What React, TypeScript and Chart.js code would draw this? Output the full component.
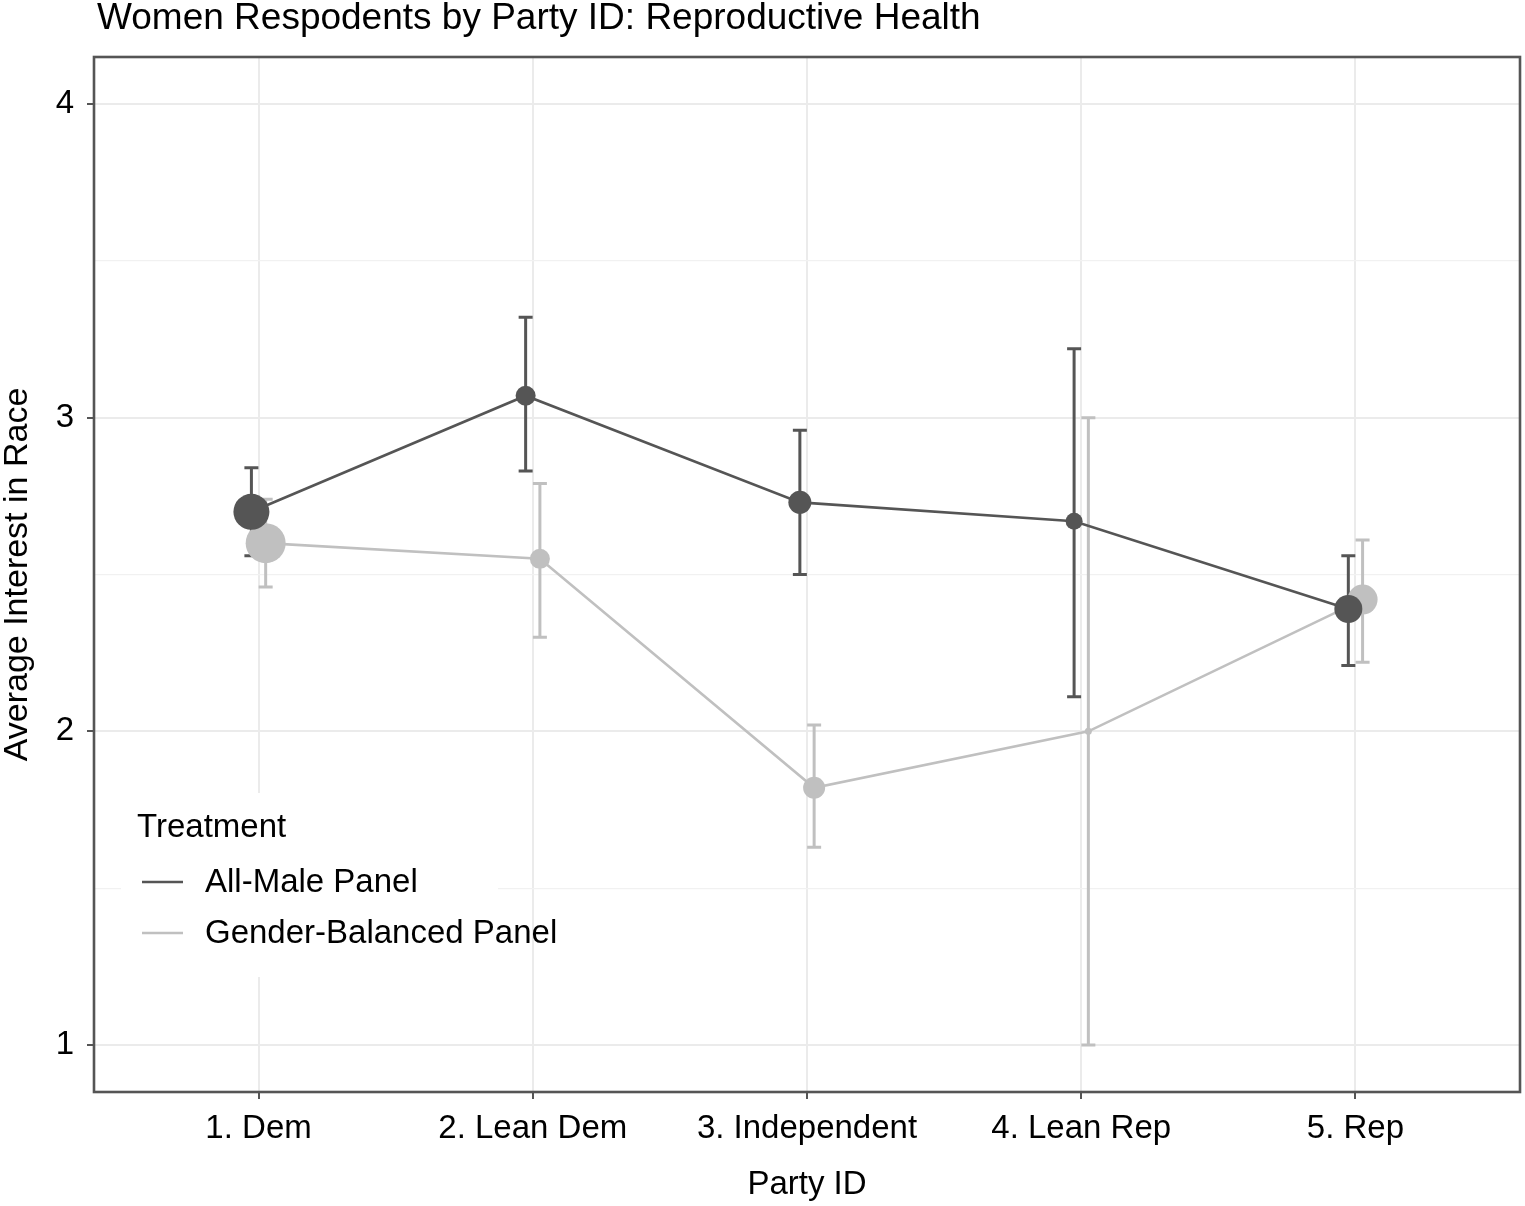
import React, { useEffect, useRef } from "react";
import { Chart, registerables } from "chart.js";

Chart.register(...registerables);

// ---- data ----
const categories = ["1. Dem", "2. Lean Dem", "3. Independent", "4. Lean Rep", "5. Rep"];
const seriesNames = ["All-Male Panel", "Gender-Balanced Panel"];

const maleMean = [2.70, 3.07, 2.73, 2.67, 2.39];
const maleLow = [2.56, 2.83, 2.50, 2.11, 2.21];
const maleHigh = [2.84, 3.32, 2.96, 3.22, 2.56];
const maleSize = [18, 10, 11.5, 8.5, 14];

const femaleMean = [2.60, 2.55, 1.82, 2.00, 2.42];
const femaleLow = [2.46, 2.30, 1.63, 1.00, 2.22];
const femaleHigh = [2.74, 2.79, 2.02, 3.00, 2.61];
const femaleSize = [20, 10, 11, 3.5, 15];

const yTicks = [1, 1.5, 2, 2.5, 3, 3.5, 4];

const titleText = "Women Respodents by Party ID: Reproductive Health";
const xTitle = "Party ID";
const yTitle = "Average Interest in Race";
const legendTitle = "Treatment";

// ---- style ----
const DARK = "#555555";
const LIGHT = "#C0C0C0";
const FONT = '"Liberation Sans", Arial, Helvetica, sans-serif';
const DODGE = 0.026;

const pts = (means: number[], off: number) => means.map((v, i) => ({ x: i + 1 + off, y: v }));

const errorBarPlugin = {
  id: "errorBars",
  beforeDatasetsDraw(chart: any) {
    const { ctx, scales } = chart;
    const xs = scales.x;
    const ys = scales.y;
    const groups = [
      { lo: femaleLow, hi: femaleHigh, color: LIGHT, off: DODGE },
      { lo: maleLow, hi: maleHigh, color: DARK, off: -DODGE },
    ];
    ctx.save();
    groups.forEach((g) => {
      ctx.strokeStyle = g.color;
      ctx.lineWidth = 3;
      ctx.lineCap = "butt";
      g.lo.forEach((lo, i) => {
        const px = xs.getPixelForValue(i + 1 + g.off);
        const pLo = ys.getPixelForValue(lo);
        const pHi = ys.getPixelForValue(g.hi[i]);
        ctx.beginPath();
        ctx.moveTo(px, pLo);
        ctx.lineTo(px, pHi);
        ctx.moveTo(px - 7, pLo);
        ctx.lineTo(px + 7, pLo);
        ctx.moveTo(px - 7, pHi);
        ctx.lineTo(px + 7, pHi);
        ctx.stroke();
      });
    });
    ctx.restore();
  },
};

const framePlugin = {
  id: "frame",
  afterDraw(chart: any) {
    const { ctx, chartArea: a } = chart;
    ctx.save();
    // panel border
    ctx.strokeStyle = DARK;
    ctx.lineWidth = 2.6;
    ctx.strokeRect(a.left, a.top, a.right - a.left, a.bottom - a.top);

    // title
    ctx.fillStyle = "#000";
    ctx.font = `37px ${FONT}`;
    ctx.textAlign = "left";
    ctx.textBaseline = "alphabetic";
    ctx.fillText(titleText, 97, 29);

    // legend
    ctx.fillStyle = "#FFFFFF";
    ctx.fillRect(121, 793, 377, 184);
    ctx.fillStyle = "#000";
    ctx.font = `33px ${FONT}`;
    ctx.fillText(legendTitle, 137, 837);
    const rows = [
      { name: seriesNames[0], color: DARK, y: 882 },
      { name: seriesNames[1], color: LIGHT, y: 933 },
    ];
    rows.forEach((r) => {
      ctx.strokeStyle = r.color;
      ctx.lineWidth = 2.6;
      ctx.beginPath();
      ctx.moveTo(142, r.y);
      ctx.lineTo(183, r.y);
      ctx.stroke();
      ctx.fillStyle = "#000";
      ctx.fillText(r.name, 205, r.y + 10);
    });
    ctx.restore();
  },
};

export default function App() {
  const ref = useRef<HTMLCanvasElement | null>(null);

  useEffect(() => {
    if (!ref.current) return;
    const chart = new Chart(ref.current, {
      type: "line",
      data: {
        datasets: [
          {
            label: seriesNames[0],
            data: pts(maleMean, -DODGE),
            borderColor: DARK,
            backgroundColor: DARK,
            borderWidth: 2.6,
            pointRadius: maleSize,
            pointBackgroundColor: DARK,
            pointBorderWidth: 0,
            pointHoverRadius: maleSize,
            tension: 0,
          },
          {
            label: seriesNames[1],
            data: pts(femaleMean, DODGE),
            borderColor: LIGHT,
            backgroundColor: LIGHT,
            borderWidth: 2.6,
            pointRadius: femaleSize,
            pointBackgroundColor: LIGHT,
            pointBorderWidth: 0,
            pointHoverRadius: femaleSize,
            tension: 0,
          },
        ],
      },
      options: {
        animation: false,
        responsive: false,
        devicePixelRatio: 1,
        layout: { autoPadding: false, padding: { top: 57, right: 5, left: 0, bottom: 0 } },
        plugins: {
          legend: { display: false },
          title: { display: false },
          tooltip: { enabled: false },
        },
        scales: {
          x: {
            type: "linear",
            min: 0.4,
            max: 5.6,
            afterBuildTicks: (s: any) => {
              s.ticks = categories.map((_, i) => ({ value: i + 1 }));
            },
            afterFit: (s: any) => {
              s.height = 114;
              s.paddingLeft = 0;
              s.paddingRight = 0;
            },
            ticks: {
              autoSkip: false,
              maxRotation: 0,
              padding: 10,
              color: "#000",
              font: { family: FONT, size: 33 },
              callback: (v: any) => categories[Math.round(Number(v)) - 1] ?? "",
            },
            grid: {
              color: "#EBEBEB",
              lineWidth: 2,
              tickLength: 7,
              tickColor: DARK,
              tickWidth: 2,
            },
            border: { display: false },
            title: {
              display: true,
              text: xTitle,
              color: "#000",
              font: { family: FONT, size: 33, lineHeight: 1 },
              padding: { top: 0, bottom: 5 },
            },
          },
          y: {
            type: "linear",
            min: 0.85,
            max: 4.15,
            afterBuildTicks: (s: any) => {
              s.ticks = yTicks.map((v) => ({ value: v }));
            },
            afterFit: (s: any) => {
              s.width = 94;
              s.paddingTop = 0;
              s.paddingBottom = 0;
            },
            ticks: {
              autoSkip: false,
              padding: 13,
              color: "#000",
              font: { family: FONT, size: 33 },
              callback: (v: any) => (Number(v) % 1 === 0 ? String(v) : ""),
            },
            grid: {
              color: (c: any) => (c.tick && c.tick.value % 1 === 0 ? "#EBEBEB" : "#F1F1F1"),
              lineWidth: (c: any) => (c.tick && c.tick.value % 1 === 0 ? 2 : 1.2),
              tickLength: 7,
              tickColor: (c: any) => (c.tick && c.tick.value % 1 === 0 ? DARK : "rgba(0,0,0,0)"),
              tickWidth: 2,
            },
            border: { display: false },
            title: {
              display: true,
              text: yTitle,
              color: "#000",
              font: { family: FONT, size: 34, lineHeight: 1.06 },
              padding: { top: 0, bottom: 0 },
            },
          },
        },
      },
      plugins: [errorBarPlugin, framePlugin],
    });
    return () => chart.destroy();
  }, []);

  return (
    <div style={{ position: "fixed", left: 0, top: 0, width: 1525, height: 1206, background: "#fff" }}>
      <canvas ref={ref} width={1525} height={1206} style={{ width: 1525, height: 1206 }} />
    </div>
  );
}
